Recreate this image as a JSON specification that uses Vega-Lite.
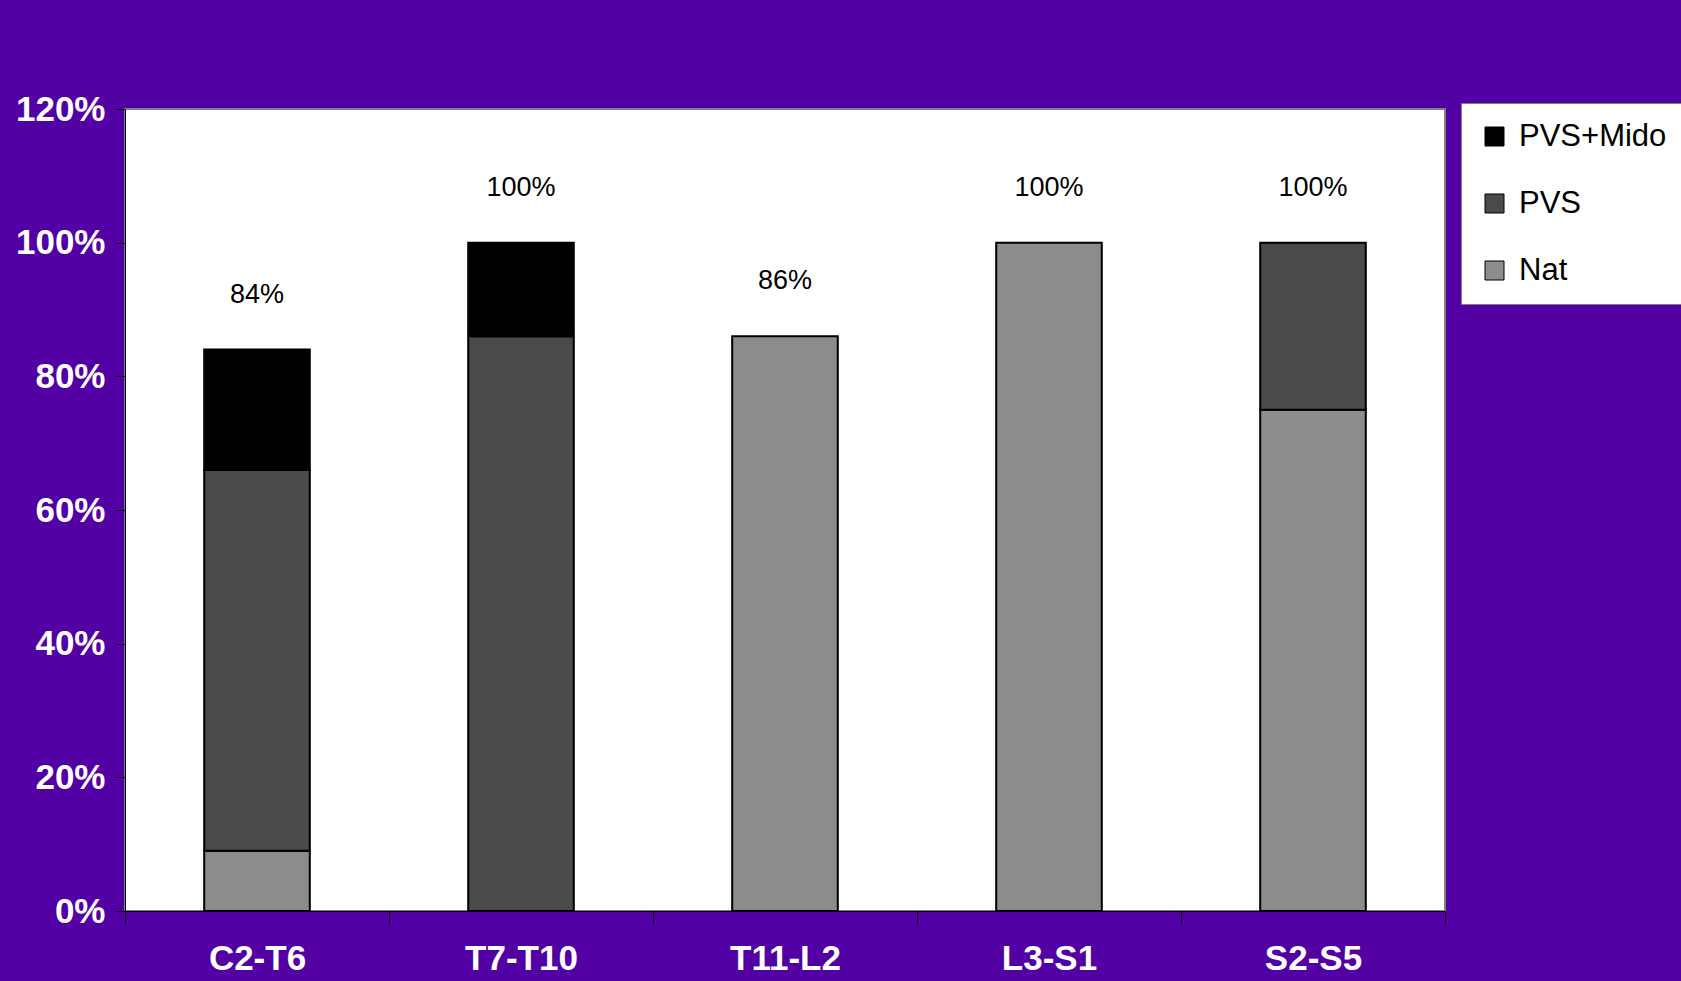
{
  "$schema": "https://vega.github.io/schema/vega-lite/v6.json",
  "width": 1320,
  "height": 802,
  "autosize": {"type": "none"},
  "padding": {"left": 125, "top": 109, "right": 236, "bottom": 70},
  "background": "#5200a4",
  "config": {
    "font": "Liberation Sans",
    "view": {"fill": "white", "stroke": "#808080", "strokeWidth": 2}
  },
  "data": {
    "values": [
      {"region": "C2-T6", "group": "Nat", "share": 0.09},
      {"region": "C2-T6", "group": "PVS", "share": 0.57},
      {"region": "C2-T6", "group": "PVS+Mido", "share": 0.18},
      {"region": "T7-T10", "group": "PVS", "share": 0.86},
      {"region": "T7-T10", "group": "PVS+Mido", "share": 0.14},
      {"region": "T11-L2", "group": "Nat", "share": 0.86},
      {"region": "L3-S1", "group": "Nat", "share": 1.0},
      {"region": "S2-S5", "group": "Nat", "share": 0.75},
      {"region": "S2-S5", "group": "PVS", "share": 0.25}
    ]
  },
  "encoding": {
    "x": {
      "field": "region",
      "type": "nominal",
      "sort": ["C2-T6", "T7-T10", "T11-L2", "L3-S1", "S2-S5"],
      "scale": {"paddingInner": 0, "paddingOuter": 0},
      "axis": {
        "title": null,
        "labelAngle": 0,
        "labelColor": "white",
        "labelFontWeight": "bold",
        "labelFontSize": 35,
        "labelPadding": 18,
        "domainColor": "black",
        "tickColor": "black",
        "tickSize": 12,
        "tickBand": "extent",
        "grid": false
      }
    }
  },
  "layer": [
    {
      "transform": [
        {"calculate": "indexof(['Nat', 'PVS', 'PVS+Mido'], datum.group)", "as": "stackRank"}
      ],
      "mark": {"type": "bar", "stroke": "black", "strokeWidth": 2, "width": {"band": 0.4}},
      "encoding": {
        "y": {
          "field": "share",
          "type": "quantitative",
          "stack": "zero",
          "scale": {"domain": [0, 1.2], "nice": false},
          "axis": {
            "title": null,
            "format": ".0%",
            "values": [0, 0.2, 0.4, 0.6, 0.8, 1.0, 1.2],
            "labelColor": "white",
            "labelFontWeight": "bold",
            "labelFontSize": 35,
            "labelPadding": 10,
            "domainColor": "black",
            "tickColor": "black",
            "tickSize": 10,
            "grid": false
          }
        },
        "color": {
          "field": "group",
          "type": "nominal",
          "scale": {
            "domain": ["PVS+Mido", "PVS", "Nat"],
            "range": ["#000000", "#4a4a4a", "#8c8c8c"]
          },
          "legend": {
            "title": null,
            "orient": "none",
            "legendX": 1336,
            "legendY": -6,
            "fillColor": "white",
            "strokeColor": "#808080",
            "padding": 18,
            "symbolType": "square",
            "symbolSize": 361,
            "symbolStrokeColor": "black",
            "symbolStrokeWidth": 1,
            "labelFontSize": 31,
            "labelColor": "black",
            "labelOffset": 9,
            "rowPadding": 35
          }
        },
        "order": {"field": "stackRank", "type": "quantitative"}
      }
    },
    {
      "transform": [
        {"aggregate": [{"op": "sum", "field": "share", "as": "total"}], "groupby": ["region"]}
      ],
      "mark": {"type": "text", "dy": -55, "fontSize": 27, "color": "black"},
      "encoding": {
        "y": {"field": "total", "type": "quantitative"},
        "text": {"field": "total", "type": "quantitative", "format": ".0%"}
      }
    }
  ]
}
